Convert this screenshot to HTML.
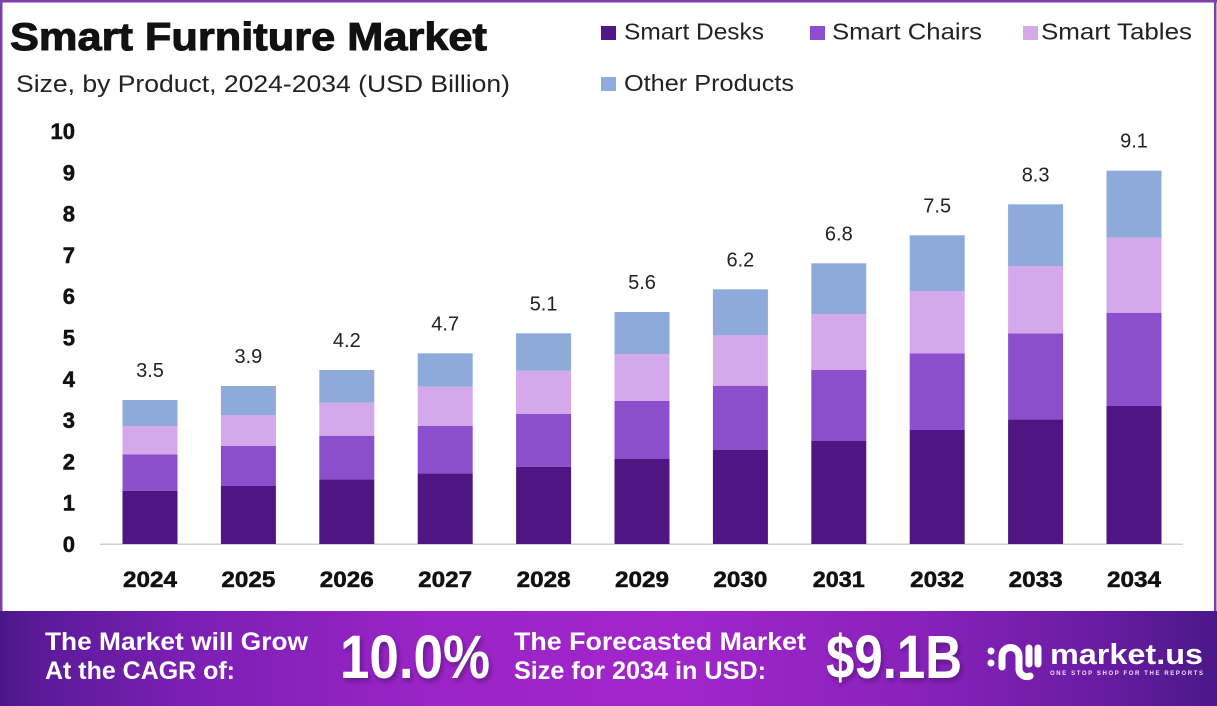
<!DOCTYPE html>
<html>
<head>
<meta charset="utf-8">
<style>
  html,body{margin:0;padding:0;background:#fff;}
  body{width:1217px;height:706px;overflow:hidden;}
  svg{display:block;}
  text{font-family:"Liberation Sans",sans-serif;}
</style>
</head>
<body>
<svg width="1217" height="706" viewBox="0 0 1217 706" xmlns="http://www.w3.org/2000/svg">
  <defs>
    <linearGradient id="ban" x1="0" y1="0" x2="1" y2="0">
      <stop offset="0" stop-color="#4a1786"/>
      <stop offset="0.03" stop-color="#5a1a98"/>
      <stop offset="0.15" stop-color="#7a1fb3"/>
      <stop offset="0.35" stop-color="#9a24c6"/>
      <stop offset="0.55" stop-color="#a226cb"/>
      <stop offset="0.75" stop-color="#8a22bb"/>
      <stop offset="0.9" stop-color="#6a1ca3"/>
      <stop offset="1" stop-color="#4b1889"/>
    </linearGradient>
    <filter id="sh" x="-10%" y="-10%" width="130%" height="140%">
      <feDropShadow dx="2" dy="3" stdDeviation="2" flood-color="#3a0a60" flood-opacity="0.55"/>
    </filter>
  </defs>

  <!-- frame -->
  <rect x="0" y="0" width="1217" height="706" fill="#ffffff"/>
  <rect x="0" y="0" width="1217" height="2.5" fill="#7c3fae"/>
  <rect x="0" y="0" width="2.5" height="612" fill="#7c3fae"/>
  <rect x="1214" y="0" width="2.5" height="612" fill="#7c3fae"/>

  <!-- title -->
  <text x="10" y="50" font-size="39" font-weight="bold" fill="#111" stroke="#111" stroke-width="1" textLength="477" lengthAdjust="spacingAndGlyphs">Smart Furniture Market</text>
  <text x="16" y="92" font-size="24" fill="#222" textLength="494" lengthAdjust="spacingAndGlyphs">Size, by Product, 2024-2034 (USD Billion)</text>

  <!-- legend -->
  <rect x="601" y="26" width="15" height="14" fill="#4f1787"/>
  <text x="624" y="39.5" font-size="23" fill="#222" textLength="140" lengthAdjust="spacingAndGlyphs">Smart Desks</text>
  <rect x="810" y="26" width="15" height="14" fill="#8b4fd0"/>
  <text x="832" y="39.5" font-size="23" fill="#222" textLength="150" lengthAdjust="spacingAndGlyphs">Smart Chairs</text>
  <rect x="1023" y="26" width="15" height="14" fill="#d3a9ea"/>
  <text x="1041" y="39.5" font-size="23" fill="#222" textLength="151" lengthAdjust="spacingAndGlyphs">Smart Tables</text>
  <rect x="601" y="77" width="15" height="14" fill="#8eaade"/>
  <text x="624" y="91" font-size="23" fill="#222" textLength="170" lengthAdjust="spacingAndGlyphs">Other Products</text>

  <!-- y ticks -->
  <g font-size="22" font-weight="bold" fill="#111" stroke="#111" stroke-width="0.5" text-anchor="end">
    <text x="75" y="552">0</text>
    <text x="75" y="510.7">1</text>
    <text x="75" y="469.4">2</text>
    <text x="75" y="428.1">3</text>
    <text x="75" y="386.8">4</text>
    <text x="75" y="345.5">5</text>
    <text x="75" y="304.2">6</text>
    <text x="75" y="262.9">7</text>
    <text x="75" y="221.6">8</text>
    <text x="75" y="180.3">9</text>
    <text x="75" y="139">10</text>
  </g>

  <!-- axis -->
  <rect x="100" y="543.5" width="1083" height="1.5" fill="#cfcfcf"/>

  <!-- bars -->
  <g>
    <rect x="122.5" y="490.7" width="55" height="53.3" fill="#4f1683"/>
    <rect x="122.5" y="454.3" width="55" height="36.4" fill="#8c4fcc"/>
    <rect x="122.5" y="426" width="55" height="28.3" fill="#d4a8eb"/>
    <rect x="122.5" y="400" width="55" height="26" fill="#8eaadb"/>

    <rect x="220.9" y="486" width="55" height="58" fill="#4f1683"/>
    <rect x="220.9" y="446" width="55" height="40" fill="#8c4fcc"/>
    <rect x="220.9" y="415" width="55" height="31" fill="#d4a8eb"/>
    <rect x="220.9" y="386" width="55" height="29" fill="#8eaadb"/>

    <rect x="319.3" y="479.3" width="55" height="64.7" fill="#4f1683"/>
    <rect x="319.3" y="435.7" width="55" height="43.6" fill="#8c4fcc"/>
    <rect x="319.3" y="402.7" width="55" height="33" fill="#d4a8eb"/>
    <rect x="319.3" y="370" width="55" height="32.7" fill="#8eaadb"/>

    <rect x="417.7" y="473.3" width="55" height="70.7" fill="#4f1683"/>
    <rect x="417.7" y="426" width="55" height="47.3" fill="#8c4fcc"/>
    <rect x="417.7" y="386.7" width="55" height="39.3" fill="#d4a8eb"/>
    <rect x="417.7" y="353.3" width="55" height="33.4" fill="#8eaadb"/>

    <rect x="516.1" y="466.7" width="55" height="77.3" fill="#4f1683"/>
    <rect x="516.1" y="414" width="55" height="52.7" fill="#8c4fcc"/>
    <rect x="516.1" y="370.7" width="55" height="43.3" fill="#d4a8eb"/>
    <rect x="516.1" y="333.3" width="55" height="37.4" fill="#8eaadb"/>

    <rect x="614.5" y="459" width="55" height="85" fill="#4f1683"/>
    <rect x="614.5" y="401" width="55" height="58" fill="#8c4fcc"/>
    <rect x="614.5" y="354" width="55" height="47" fill="#d4a8eb"/>
    <rect x="614.5" y="312" width="55" height="42" fill="#8eaadb"/>

    <rect x="712.9" y="450" width="55" height="94" fill="#4f1683"/>
    <rect x="712.9" y="385.7" width="55" height="64.3" fill="#8c4fcc"/>
    <rect x="712.9" y="335" width="55" height="50.7" fill="#d4a8eb"/>
    <rect x="712.9" y="289.3" width="55" height="45.7" fill="#8eaadb"/>

    <rect x="811.3" y="441" width="55" height="103" fill="#4f1683"/>
    <rect x="811.3" y="370" width="55" height="71" fill="#8c4fcc"/>
    <rect x="811.3" y="314" width="55" height="56" fill="#d4a8eb"/>
    <rect x="811.3" y="263.3" width="55" height="50.7" fill="#8eaadb"/>

    <rect x="909.7" y="430" width="55" height="114" fill="#4f1683"/>
    <rect x="909.7" y="353.3" width="55" height="76.7" fill="#8c4fcc"/>
    <rect x="909.7" y="291" width="55" height="62.3" fill="#d4a8eb"/>
    <rect x="909.7" y="235.3" width="55" height="55.7" fill="#8eaadb"/>

    <rect x="1008.1" y="419.3" width="55" height="124.7" fill="#4f1683"/>
    <rect x="1008.1" y="333.3" width="55" height="86" fill="#8c4fcc"/>
    <rect x="1008.1" y="266" width="55" height="67.3" fill="#d4a8eb"/>
    <rect x="1008.1" y="204.3" width="55" height="61.7" fill="#8eaadb"/>

    <rect x="1106.5" y="406" width="55" height="138" fill="#4f1683"/>
    <rect x="1106.5" y="312.7" width="55" height="93.3" fill="#8c4fcc"/>
    <rect x="1106.5" y="237.7" width="55" height="75" fill="#d4a8eb"/>
    <rect x="1106.5" y="170.7" width="55" height="67" fill="#8eaadb"/>
  </g>

  <!-- value labels -->
  <g font-size="20" fill="#222" text-anchor="middle">
    <text x="150" y="377">3.5</text>
    <text x="248.4" y="363">3.9</text>
    <text x="346.8" y="347">4.2</text>
    <text x="445.2" y="330.3">4.7</text>
    <text x="543.6" y="310.3">5.1</text>
    <text x="642" y="289">5.6</text>
    <text x="740.4" y="266.3">6.2</text>
    <text x="838.8" y="240.3">6.8</text>
    <text x="937.2" y="212.3">7.5</text>
    <text x="1035.6" y="181.3">8.3</text>
    <text x="1134" y="147.7">9.1</text>
  </g>

  <!-- year labels -->
  <g font-size="22" font-weight="bold" fill="#111" stroke="#111" stroke-width="0.5" text-anchor="middle">
    <text x="150" y="587" textLength="54" lengthAdjust="spacingAndGlyphs">2024</text>
    <text x="248.4" y="587" textLength="54" lengthAdjust="spacingAndGlyphs">2025</text>
    <text x="346.8" y="587" textLength="54" lengthAdjust="spacingAndGlyphs">2026</text>
    <text x="445.2" y="587" textLength="54" lengthAdjust="spacingAndGlyphs">2027</text>
    <text x="543.6" y="587" textLength="54" lengthAdjust="spacingAndGlyphs">2028</text>
    <text x="642" y="587" textLength="54" lengthAdjust="spacingAndGlyphs">2029</text>
    <text x="740.4" y="587" textLength="54" lengthAdjust="spacingAndGlyphs">2030</text>
    <text x="838.8" y="587" textLength="52" lengthAdjust="spacingAndGlyphs">2031</text>
    <text x="937.2" y="587" textLength="54" lengthAdjust="spacingAndGlyphs">2032</text>
    <text x="1035.6" y="587" textLength="54" lengthAdjust="spacingAndGlyphs">2033</text>
    <text x="1134" y="587" textLength="54" lengthAdjust="spacingAndGlyphs">2034</text>
  </g>

  <!-- banner -->
  <rect x="0" y="611" width="1217" height="95" fill="url(#ban)"/>
  <g fill="#ffffff" font-weight="bold">
    <text x="45" y="650" font-size="25" textLength="263" lengthAdjust="spacingAndGlyphs">The Market will Grow</text>
    <text x="45" y="679" font-size="25" textLength="190" lengthAdjust="spacingAndGlyphs">At the CAGR of:</text>
    <text x="340" y="678" font-size="61" textLength="150" lengthAdjust="spacingAndGlyphs" filter="url(#sh)">10.0%</text>
    <text x="514" y="650" font-size="25" textLength="292" lengthAdjust="spacingAndGlyphs">The Forecasted Market</text>
    <text x="514" y="679" font-size="25" textLength="252" lengthAdjust="spacingAndGlyphs">Size for 2034 in USD:</text>
    <text x="826" y="678" font-size="61" textLength="136" lengthAdjust="spacingAndGlyphs" filter="url(#sh)">$9.1B</text>
  </g>

  <!-- logo -->
  <g fill="none" stroke="#ffffff" stroke-linecap="round" stroke-width="7">
    <path d="M1002,667 L1002,656 A8.5,8.5 0 0 1 1019,656 L1019,668 A8,8 0 0 0 1030,676"/>
    <path d="M1029,648 L1029,664"/>
    <path d="M1038,648 L1038,664"/>
  </g>
  <circle cx="991" cy="651" r="3.5" fill="#fff"/>
  <circle cx="991" cy="663" r="3.5" fill="#fff"/>
  <text x="1050" y="664" font-size="29" font-weight="bold" fill="#fff" textLength="153" lengthAdjust="spacingAndGlyphs">market.us</text>
  <text x="1050" y="675" font-size="6" font-weight="bold" fill="#f0e0ff" textLength="153" lengthAdjust="spacing">ONE STOP SHOP FOR THE REPORTS</text>
</svg>
</body>
</html>
